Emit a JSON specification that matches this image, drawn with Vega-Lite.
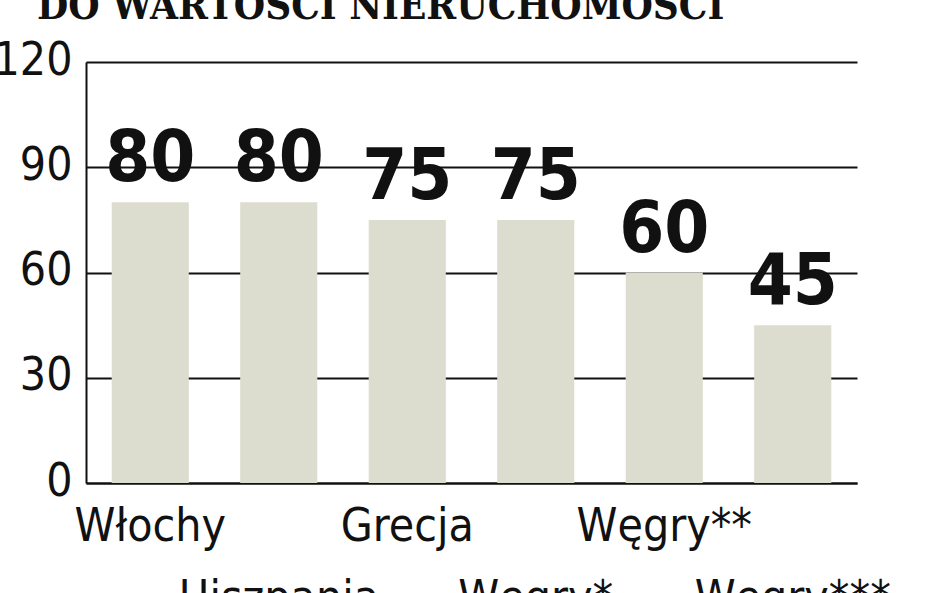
{
  "$schema": "https://vega.github.io/schema/vega-lite/v6.json",
  "autosize": {"type": "none"},
  "width": 771,
  "height": 421,
  "padding": {"left": 86, "top": 62, "right": 91, "bottom": 110},
  "background": "white",
  "title": {
    "text": "DO WARTOŚCI NIERUCHOMOŚCI",
    "anchor": "start",
    "frame": "group",
    "dx": -49,
    "dy": 30,
    "font": "DejaVu Serif Condensed, DejaVu Serif",
    "fontWeight": "bold",
    "fontSize": 40,
    "color": "#111111",
    "baseline": "bottom",
    "offset": 0
  },
  "config": {
    "font": "DejaVu Sans Condensed, Roboto",
    "view": {"stroke": null},
    "axis": {
      "labelFont": "DejaVu Sans Condensed, Roboto",
      "labelFontSize": 46,
      "labelColor": "#111111",
      "labelLimit": 0,
      "domainColor": "#111111",
      "domainWidth": 2,
      "ticks": false,
      "title": null
    }
  },
  "data": {
    "values": [
      {"kraj": "Włochy", "wartosc": 80},
      {"kraj": "Hiszpania", "wartosc": 80},
      {"kraj": "Grecja", "wartosc": 75},
      {"kraj": "Węgry*", "wartosc": 75},
      {"kraj": "Węgry**", "wartosc": 60},
      {"kraj": "Węgry***", "wartosc": 45}
    ]
  },
  "encoding": {
    "x": {
      "field": "kraj",
      "type": "nominal",
      "sort": null,
      "scale": {"paddingInner": 0.4, "paddingOuter": 0.2},
      "axis": {
        "labelAngle": 0,
        "grid": false,
        "labelPadding": {
          "condition": {"test": "indexof(['Hiszpania','Węgry*','Węgry***'], datum.value) >= 0", "value": 93},
          "value": 21
        }
      }
    },
    "y": {
      "field": "wartosc",
      "type": "quantitative",
      "scale": {"domain": [0, 120]},
      "axis": {
        "values": [0, 30, 60, 90, 120],
        "grid": true,
        "gridColor": "#111111",
        "gridWidth": 2,
        "gridOpacity": 1,
        "labelPadding": 14,
        "labelBaseline": "alphabetic",
        "labelOffset": 12
      }
    }
  },
  "layer": [
    {
      "mark": {"type": "bar", "color": "#dcdccf"}
    },
    {
      "mark": {
        "type": "text",
        "font": "DejaVu Sans Condensed, Roboto",
        "fontWeight": "bold",
        "fontSize": 72,
        "baseline": "alphabetic",
        "dy": -21,
        "color": "#111111"
      },
      "encoding": {
        "text": {"field": "wartosc", "type": "quantitative"}
      }
    }
  ]
}
